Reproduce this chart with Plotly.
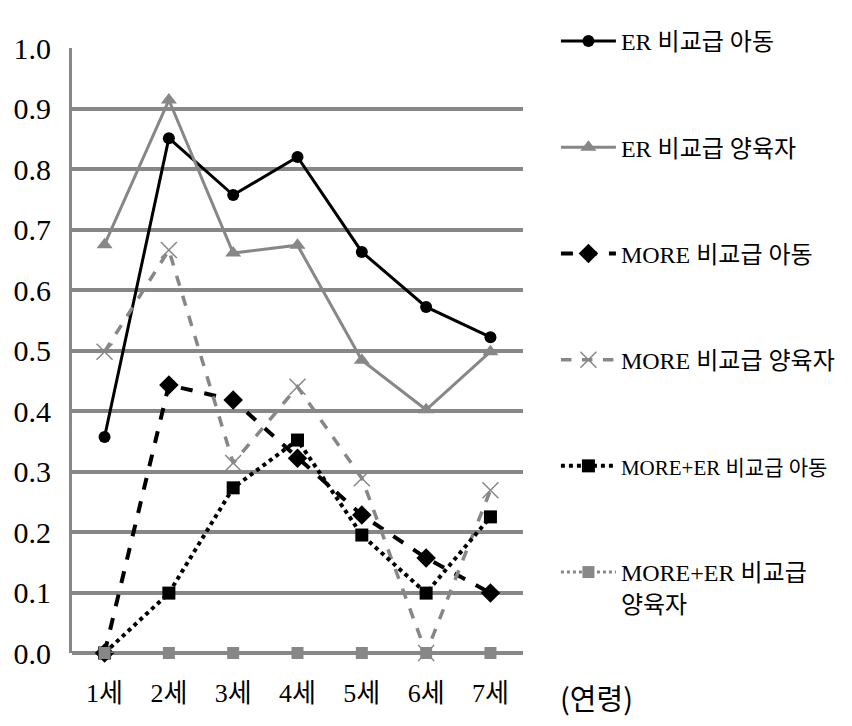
import plotly.graph_objects as go

categories = ["1세", "2세", "3세", "4세", "5세", "6세", "7세"]

er_child = [0.357, 0.851, 0.757, 0.820, 0.663, 0.572, 0.522]
er_parent = [0.675, 0.914, 0.661, 0.674, 0.484, 0.402, 0.498]
more_child = [0.0, 0.443, 0.418, 0.322, 0.228, 0.157, 0.099]
more_parent = [0.498, 0.666, 0.314, 0.440, 0.289, 0.0, 0.269]
moreer_child = [0.0, 0.099, 0.273, 0.352, 0.195, 0.099, 0.225]
moreer_parent = [0.0, 0.0, 0.0, 0.0, 0.0, 0.0, 0.0]

series_names = [
    "ER 비교급 아동",
    "ER 비교급 양육자",
    "MORE 비교급 아동",
    "MORE 비교급 양육자",
    "<span style=\"font-size:21px\">MORE+ER 비교급 아동</span>",
    "MORE+ER 비교급<br>양육자",
]

y_ticks = [0.0, 0.1, 0.2, 0.3, 0.4, 0.5, 0.6, 0.7, 0.8, 0.9, 1.0]
x_title = "(연령)"

GRAY = "#878787"
FONT = "Liberation Serif, Noto Sans CJK KR, serif"

styles = [
    dict(color="black", width=3, dash="solid", symbol="circle", size=12, mcolor="black"),
    dict(color=GRAY, width=3, dash="solid", symbol="triangle-up", size=14, mcolor=GRAY),
    dict(color="black", width=4, dash="dash", symbol="diamond", size=15, mcolor="black"),
    dict(color=GRAY, width=3.5, dash="dash", symbol="x-thin", size=16, mcolor=GRAY),
    dict(color="black", width=4, dash="dot", symbol="square", size=13, mcolor="black"),
    dict(color=GRAY, width=3, dash="dot", symbol="square", size=12, mcolor=GRAY),
]

data = [er_child, er_parent, more_child, more_parent, moreer_child, moreer_parent]

fig = go.Figure()
for i, (name, vals, st) in enumerate(zip(series_names, data, styles)):
    marker = dict(symbol=st["symbol"], size=st["size"], color=st["mcolor"])
    if st["symbol"] == "x-thin":
        marker["line"] = dict(color=st["mcolor"], width=1.5)
    fig.add_trace(go.Scatter(
        x=categories, y=vals, name=name, mode="lines+markers",
        line=dict(color=st["color"], width=st["width"], dash=st["dash"]),
        marker=marker, cliponaxis=False, legendgroup=f"g{i}",
    ))

fig.update_layout(
    width=852, height=726,
    margin=dict(l=72, r=304, t=48, b=73),
    paper_bgcolor="white", plot_bgcolor="white",
    font=dict(family=FONT, color="black", size=24),
    showlegend=True,
    legend=dict(
        x=1.073, xanchor="left", y=1.048, yanchor="top",
        font=dict(family=FONT, size=24, color="black"),
        tracegroupgap=72, itemwidth=55, valign="top",
        bgcolor="rgba(0,0,0,0)", maxheight=720,
    ),
    xaxis=dict(
        type="category", showgrid=False, showline=False, zeroline=False,
        ticks="", tickfont=dict(family=FONT, size=26), ticklabelstandoff=22,
    ),
    yaxis=dict(
        range=[0, 1], tickvals=y_ticks, ticktext=[f"{v:.1f}" for v in y_ticks],
        showgrid=True, gridcolor=GRAY, gridwidth=4,
        zeroline=True, zerolinecolor=GRAY, zerolinewidth=4,
        showline=True, linecolor=GRAY, linewidth=3,
        ticks="", tickfont=dict(family=FONT, size=30), ticklabelstandoff=12,
    ),
)

fig.add_annotation(
    text=x_title, xref="paper", yref="paper", x=1.078, y=-0.072,
    xanchor="left", yanchor="middle", showarrow=False,
    font=dict(family="Noto Sans CJK KR", size=29, color="black"),
)

fig.write_html("out.html")
